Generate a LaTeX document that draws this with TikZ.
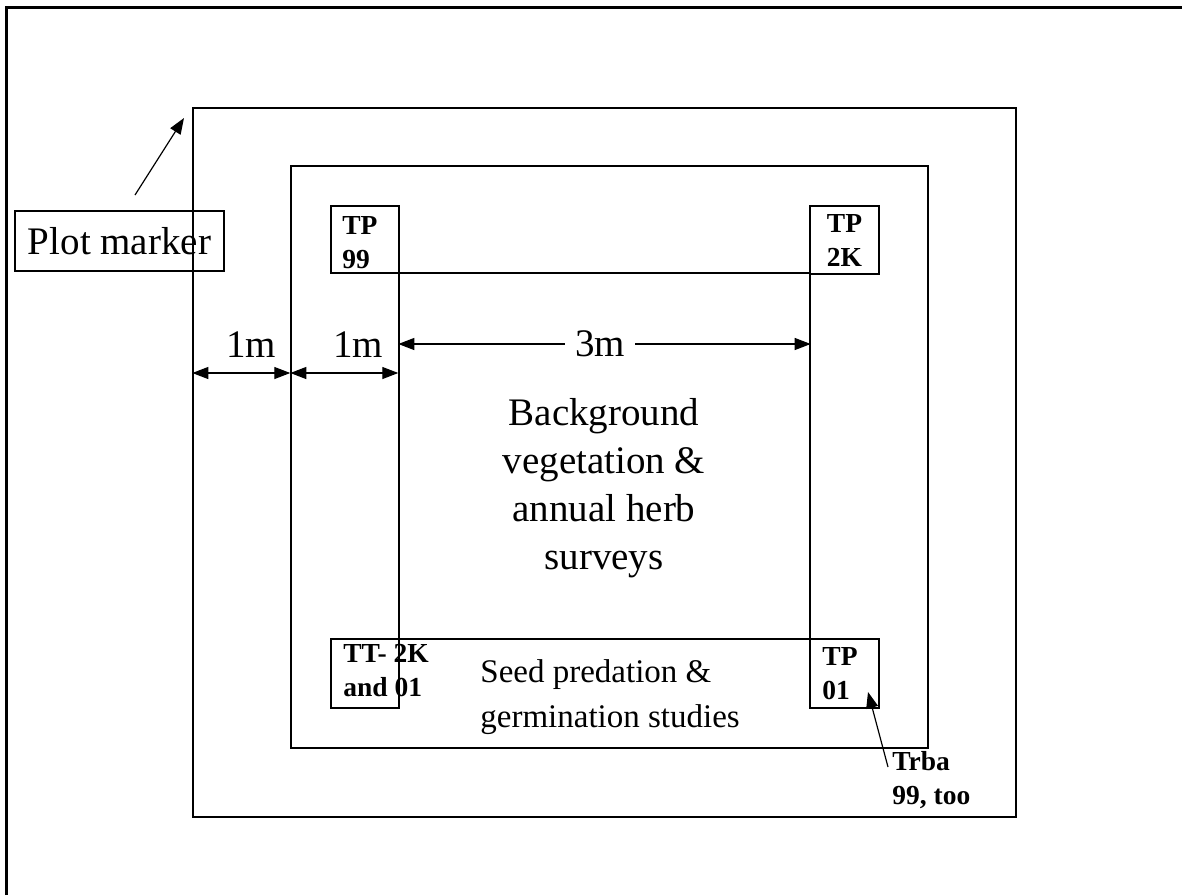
\documentclass[tikz,border=0pt]{standalone}
\usepackage{fontspec}
\setmainfont{Liberation Serif}
\usetikzlibrary{arrows.meta,fit,positioning}

\begin{document}
\begin{tikzpicture}
    [
      x=0.5pt, y=-0.5pt,
      plot/.style={draw,line width=0.7pt,inner sep=0pt},
      biglabel/.style={font=\fontsize{19.5}{24}\selectfont,align=center,inner sep=0pt},
      seedlabel/.style={font=\fontsize{16.5}{22.5}\selectfont,align=left,anchor=west,inner sep=0pt},
      boxlabel/.style={font=\fontsize{13.75}{17}\selectfont\bfseries,align=left,anchor=west,inner sep=0pt},
      post/.style={-{Triangle[length=8pt,width=6pt]},line width=0.6pt},
      dimline/.style={{Triangle[length=8pt,width=6pt]}-{Triangle[length=8pt,width=6pt]},line width=0.6pt},
    ]
    \useasboundingbox (0,0) rectangle (1182,895);

    % page frame, top and left only
    \draw [line width=1.5pt] (6,895) -- (6,7) -- (1182,7);

    \node (outer) [plot, fit={(193,108) (1016,817)}] {};
    \node (middle) [plot, fit={(291,166) (928,748)}] {};
    \node (core) [plot, fit={(399,273) (810,639)}] {};
    \node (tp99) [plot, fit={(331,206) (399,273)}] {};
    \node (tp2k) [plot, fit={(810,206) (879,274)}] {};
    \node (tt2k) [plot, fit={(331,639) (399,708)}] {};
    \node (tp01) [plot, fit={(810,639) (879,708)}] {};

    \node (marker) [plot, biglabel, minimum width=104.5pt, minimum height=30pt] at (119.5,241) {Plot marker};
    \coordinate (marker-tail) at (135,195);
    \coordinate (marker-tip) at (184,118);

    % dimensions
    \coordinate (dim-y) at (0,373);
    \node (one-a) [biglabel] at (251,345) {1m};
    \node (one-b) [biglabel] at (358,345) {1m};
    \node (three) [biglabel, inner xsep=5pt] at (600,344) {3m};

    \node (survey) [biglabel] at (604,488) {Background\\vegetation \&\\annual herb\\surveys};
    \node (seed) [seedlabel] at (480,697) {Seed predation \&\\germination studies};

    \node (tp99-text) [boxlabel] at (342,243) {TP\\99};
    \node (tp2k-text) [boxlabel, anchor=center, align=center] at (tp2k) {TP\\2K};
    \node (tt2k-text) [boxlabel] at (343,671) {TT- 2K\\and 01};
    \node (tp01-text) [boxlabel] at (822,674) {TP\\01};
    \node (trba) [boxlabel] at (892,780) {Trba\\99, too};
    \coordinate (trba-tail) at (888,767);
    \coordinate (tp01-tip) at (868,692);

    \path
    (marker-tail) edge [post] (marker-tip)
    (outer.west |- dim-y) edge [dimline] (middle.west |- dim-y)
    (middle.west |- dim-y) edge [dimline] (core.west |- dim-y)
    (three.west) edge [post] (core.west |- three)
    (three.east) edge [post] (core.east |- three)
    (trba-tail) edge [post] (tp01-tip)
    ;

  \end{tikzpicture}
\end{document}
